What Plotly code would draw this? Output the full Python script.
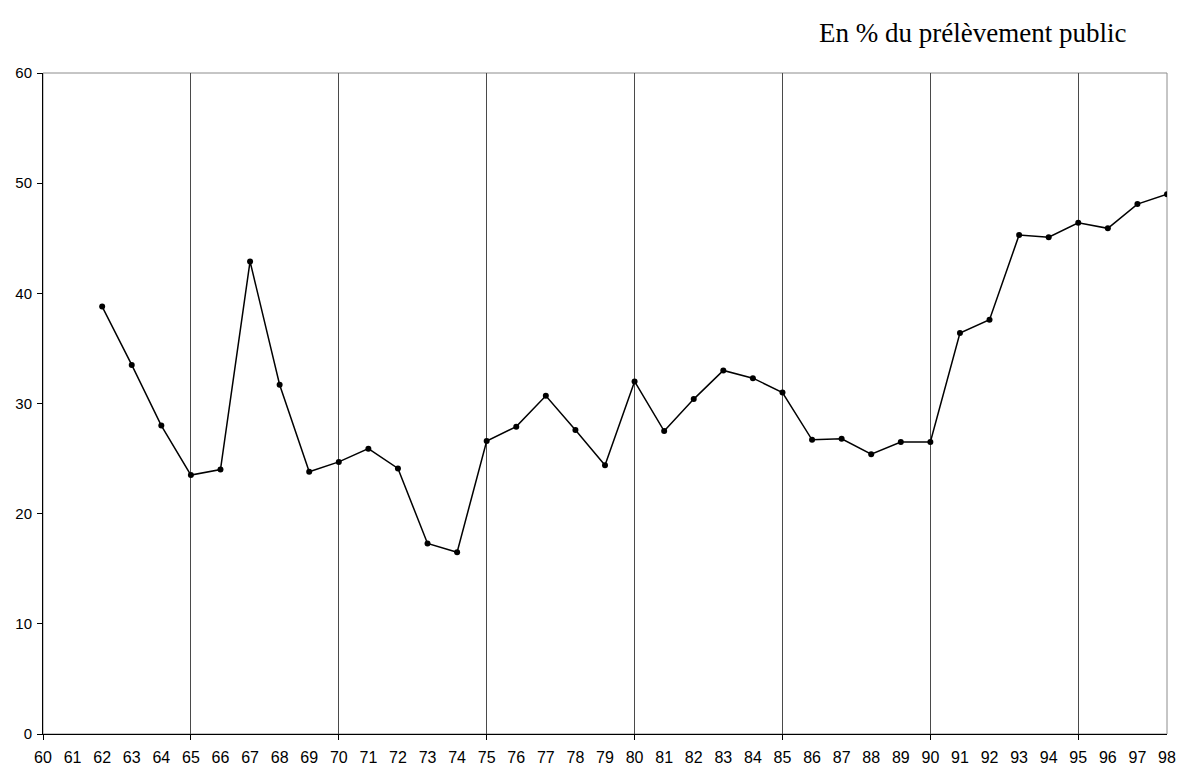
import plotly.graph_objects as go

years = list(range(60, 99))
year_labels = [str(y) for y in years]
data_years = list(range(62, 99))
values = [38.8, 33.5, 28.0, 23.5, 24.0, 42.9, 31.7, 23.8, 24.7, 25.9,
          24.1, 17.3, 16.5, 26.6, 27.9, 30.7, 27.6, 24.4, 32.0, 27.5,
          30.4, 33.0, 32.3, 31.0, 26.7, 26.8, 25.4, 26.5, 26.5, 36.4,
          37.6, 45.3, 45.1, 46.4, 45.9, 48.1, 49.0]
grid_years = [60, 65, 70, 75, 80, 85, 90, 95]
y_ticks = [0, 10, 20, 30, 40, 50, 60]
note = "En % du prélèvement public"

fig = go.Figure()
fig.add_trace(go.Scatter(
    x=data_years, y=values, mode="lines+markers",
    line=dict(color="black", width=1.5),
    marker=dict(color="black", size=6),
    showlegend=False,
))

fig.update_layout(
    width=1177, height=765,
    margin=dict(l=43, r=10, t=73, b=31, autoexpand=False),
    paper_bgcolor="white", plot_bgcolor="white",
    font=dict(family="Liberation Sans, Arial, sans-serif", size=15, color="black"),
    shapes=[dict(type="rect", xref="paper", yref="paper", x0=0, y0=0, x1=1, y1=1,
                 line=dict(color="#8c8c8c", width=1), layer="below")],
    annotations=[dict(text=note, xref="paper", yref="paper", x=0.9653, y=1.061,
                      xanchor="right", yanchor="middle", showarrow=False,
                      font=dict(family="Liberation Serif, Times New Roman, serif",
                                size=27, color="black"))],
)

fig.update_xaxes(
    range=[60, 98], tickmode="array", tickvals=years, ticktext=year_labels,
    ticks="", showgrid=False, zeroline=False, automargin=False,
    showline=True, linecolor="black", linewidth=1,
    tickfont=dict(size=16), ticklabelstandoff=9,
    minor=dict(tickmode="array", tickvals=grid_years, ticks="outside", ticklen=5,
               tickcolor="black", showgrid=True, gridcolor="#4a4a4a", gridwidth=1),
)
fig.update_yaxes(
    range=[0, 60], tickmode="array", tickvals=y_ticks,
    ticks="outside", ticklen=5, tickcolor="black", automargin=False,
    showgrid=False, zeroline=False,
    showline=True, linecolor="black", linewidth=1,
    tickfont=dict(size=15), ticklabelstandoff=2,
)

fig.write_html("out.html", config={"displayModeBar": False},
               post_script="document.body.style.margin='0';document.body.style.overflow='hidden';")
